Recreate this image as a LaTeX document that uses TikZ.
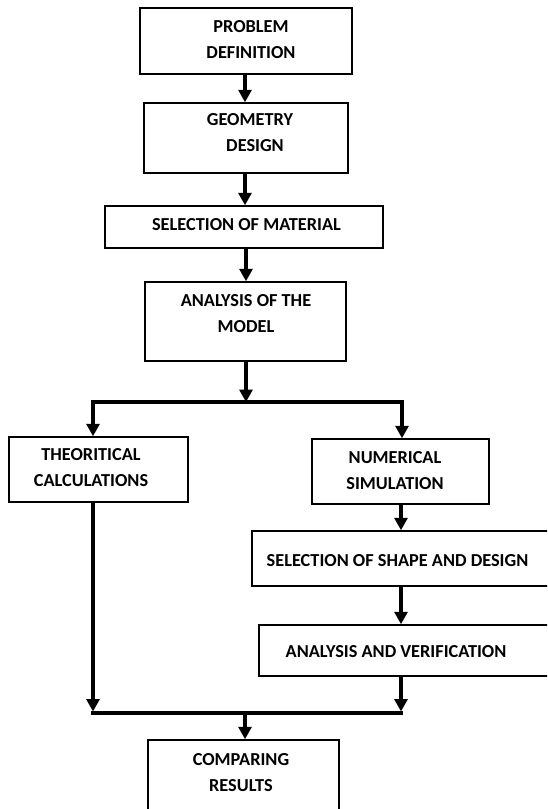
\documentclass[tikz,border=0pt]{standalone}
\usepackage{fontspec}
\setmainfont{Carlito}
\usetikzlibrary{arrows.meta}
\tikzset{
  box/.style={draw=black, line width=1.5pt, fill=white, inner sep=0pt},
  txt/.style={font=\fontsize{18.3}{26}\selectfont\bfseries, align=center, inner sep=0pt},
  arr/.style={line width=3.5pt, -{Triangle[width=13pt,length=12.5pt]}},
  bar/.style={line width=3.5pt, line cap=rect}
}
\begin{document}
\begin{tikzpicture}[x=1pt,y=-1pt]
\useasboundingbox (0,0) rectangle (547,809);
\clip (0,0) rectangle (547,809);
\fill[white] (0,0) rectangle (547,809);
% boxes
\node[box, minimum width=212pt, minimum height=66pt] (b1) at (246,41) {};
\node[box, minimum width=204pt, minimum height=70pt] (b2) at (246,138) {};
\node[box, minimum width=278pt, minimum height=42pt] (b3) at (244,227) {};
\node[box, minimum width=201pt, minimum height=79pt] (b4) at (245.5,321.5) {};
\node[box, minimum width=179pt, minimum height=65pt] (b5) at (98.5,469.5) {};
\node[box, minimum width=177pt, minimum height=65pt] (b6) at (400.5,471.5) {};
\node[box, minimum width=308pt, minimum height=55pt] (b7) at (406,558.5) {};
\node[box, minimum width=301pt, minimum height=51pt] (b8) at (409.5,650.5) {};
\node[box, minimum width=191pt, minimum height=90pt] (b9) at (243.5,785) {};
% texts
\node[txt] (t1) at (251,40) {PROBLEM\\DEFINITION};
\node[txt] (t2) at (250,133) {GEOMETRY\\\hspace*{10pt}DESIGN};
\node[txt] (t3) at (246.5,225) {SELECTION OF MATERIAL};
\node[txt] (t4) at (246,314) {ANALYSIS OF THE\\MODEL};
\node[txt] (t5) at (91,468) {THEORITICAL\\CALCULATIONS};
\node[txt] (t6) at (395,470.5) {NUMERICAL\\SIMULATION};
\node[txt] (t7) at (397.5,561) {SELECTION OF SHAPE AND DESIGN};
\node[txt] (t8) at (396,652) {ANALYSIS AND VERIFICATION};
\node[txt] (t9) at (241,773) {COMPARING\\RESULTS};
% helper coordinates
\coordinate (split) at (246,402);
\coordinate (splitL) at (93,402);
\coordinate (colR) at (401,0);
\coordinate (joinL) at (93,713);
\coordinate (joinR) at (401,713);
\coordinate (joinM) at (245,713);
% connectors
\draw[arr] (b1.south -| 245,0) -- (b2.north -| 245,0);
\draw[arr] (b2.south -| 245,0) -- (b3.north -| 245,0);
\draw[arr] (b3.south -| 246,0) -- (b4.north -| 246,0);
\draw[arr] (b4.south -| split) -- (split);
\draw[arr] (split) -| (b5.north -| splitL);
\draw[arr] (split) -| (b6.north -| 402,0);
\draw[arr] (b6.south -| colR) -- (b7.north -| colR);
\draw[arr] (b7.south -| colR) -- (b8.north -| colR);
\draw[arr, shorten >=1.5pt] (b5.south -| joinL) -- (joinL);
\draw[arr, shorten >=1.5pt] (b8.south -| joinR) -- (joinR);
\draw[bar] (joinL) -- (joinR);
\draw[arr] (joinM) -- (b9.north -| joinM);
\end{tikzpicture}
\end{document}
